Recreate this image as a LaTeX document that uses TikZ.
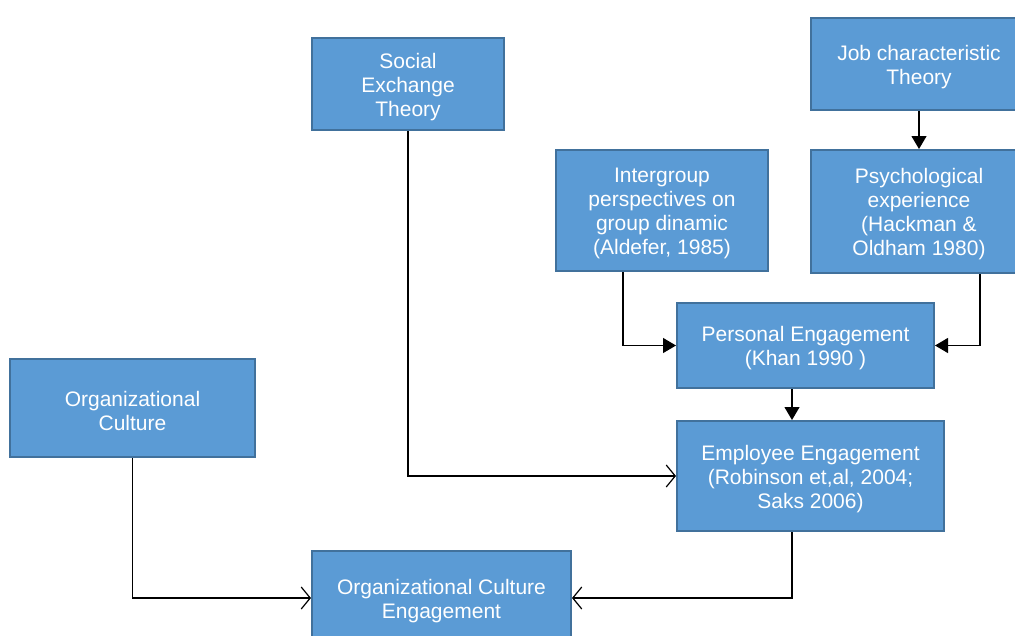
\documentclass[tikz,border=0pt]{standalone}
\usepackage{fontspec}
\setmainfont{Liberation Sans}
\usetikzlibrary{arrows.meta}
\definecolor{boxfill}{HTML}{5B9BD5}
\definecolor{boxline}{HTML}{41719C}
\tikzset{
  box/.style={rectangle, fill=boxfill, draw=boxline, line width=2pt, inner sep=0pt},
  txt/.style={text=white, align=center, inner sep=0pt, font=\fontsize{21}{24}\selectfont, yshift=-3pt},
  fa/.style={line width=1.2pt, -{Triangle[length=13pt,width=15pt]}},
  oa/.style={line width=1.2pt, -{Straight Barb[length=9pt,width=22pt,line width=1.2pt]}}
}
\begin{document}
\begin{tikzpicture}[x=1pt,y=-1pt]
\useasboundingbox (0,0) rectangle (1015,635);
\node[box, minimum width=192pt, minimum height=92pt] (soc) at (408,84) {};
\node[txt] (soct) at (soc.center) {Social\\Exchange\\Theory};
\node[box, minimum width=216pt, minimum height=92pt] (job) at (919,64) {};
\node[txt] (jobt) at (job.center) {Job characteristic\\Theory};
\node[box, minimum width=212pt, minimum height=121pt] (inter) at (662,210.5) {};
\node[txt] (intert) at (inter.center) {Intergroup\\perspectives on\\group dinamic\\(Aldefer, 1985)};
\node[box, minimum width=216pt, minimum height=123pt] (psych) at (919,211.5) {};
\node[txt] (psycht) at (psych.center) {Psychological\\experience\\(Hackman \&\\Oldham 1980)};
\node[box, minimum width=257pt, minimum height=85pt] (pers) at (805.5,345.5) {};
\node[txt] (perst) at (pers.center) {Personal Engagement\\(Khan 1990 )};
\node[box, minimum width=245pt, minimum height=98pt] (org) at (132.5,408) {};
\node[txt] (orgt) at (org.center) {Organizational\\Culture};
\node[box, minimum width=267pt, minimum height=110pt] (emp) at (810.5,476) {};
\node[txt] (empt) at (emp.center) {Employee Engagement\\(Robinson et,al, 2004;\\Saks 2006)};
\node[box, minimum width=259pt, minimum height=94pt] (oce) at (441.5,598) {};
\node[txt] (ocet) at (oce.center) {Organizational Culture\\Engagement};

\draw[fa] (job.south) -- (psych.north);
\draw[fa] ([xshift=-39pt]inter.south) |- (pers.west);
\draw[fa] ([xshift=61pt]psych.south) |- (pers.east);
\draw[fa] ([xshift=-13.5pt]pers.south) -- ([xshift=-13.5pt]pers.south |- emp.north);
\draw[oa] (soc.south) |- (emp.west);
\draw[oa] (org.south) |- (oce.west);
\draw[oa] ([xshift=-18.5pt]emp.south) |- (oce.east);
\end{tikzpicture}
\end{document}
